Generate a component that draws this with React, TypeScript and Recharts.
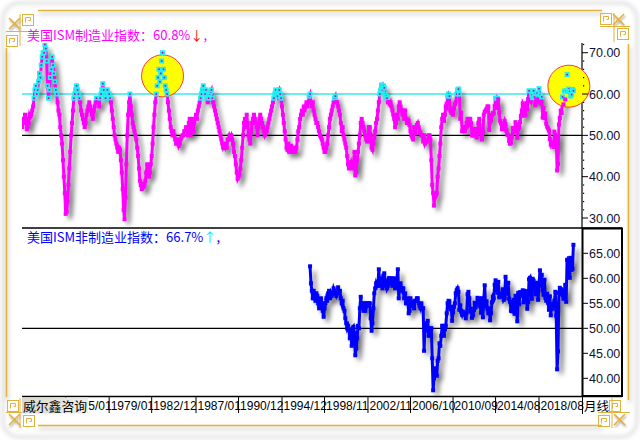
import React from 'react';
import { LineChart, Line, XAxis, YAxis, ReferenceLine, ReferenceDot } from 'recharts';

// ISM manufacturing, monthly from 1971/01
const mfg1971to1979 = [
  52, 54, 53, 55, 54, 51.5, 52, 53, 55, 54.5, 55, 56,
  57, 59, 61, 62, 60, 61, 63, 65, 64, 67, 69, 70,
  70, 72, 71, 68, 62, 59, 61, 64, 66, 69, 67, 65,
  63, 61, 60, 58, 56, 55, 52, 50, 48, 44, 40, 36,
  31, 31.5, 34, 38, 42, 46, 50, 53, 56, 59, 60, 61,
  62, 61, 60, 59, 58, 56, 55, 54, 53, 52, 53, 55,
  56, 57, 58, 57, 56, 55, 54, 56, 57, 58, 59, 58,
  58, 57, 59, 60, 61, 62.5, 61, 60, 59, 60, 61, 60,
  60, 59, 58, 56, 54, 52, 50, 49, 48, 47, 46, 47,
];
const mfg1980to1989 = [
  46.5, 44, 41, 37, 32, 29.7, 35, 43, 50, 55, 58, 60,
  57, 55, 53, 52, 51, 50, 49, 47, 45, 42, 39, 38,
  37, 38, 37.5, 38, 39, 41, 43, 42, 40, 41, 43, 45,
  48, 52, 55, 58, 60, 62, 64, 66, 63, 65, 68, 70,
  66, 64, 62, 61, 60, 58, 56, 54, 52, 51, 50, 51,
  50, 49, 48, 48, 49, 47.5, 48, 49, 49.5, 50, 50, 51,
  51, 52, 51, 50, 53, 54, 50, 52, 54, 51, 53, 54,
  55, 54, 56, 57, 58, 59, 60, 61, 62, 61, 60, 61,
  59, 58, 59, 60, 60.5, 61, 59, 58, 57, 56, 55, 54,
  53, 52, 51, 50, 49, 48, 47, 47.5, 47, 48, 47, 49,
];
const mfg1990to1999 = [
  49, 50, 49.5, 50, 49, 48, 46, 45, 43, 41, 39.5, 40,
  40.5, 42, 44, 47, 50, 53, 54, 52, 55, 53, 50, 49,
  48, 51, 53, 54, 55, 54, 53, 52, 50, 52, 54, 55,
  54, 53, 52, 51, 50, 50.5, 51, 52, 53, 54, 55, 56,
  57, 58, 59, 60, 61, 60, 59.5, 60.5, 61, 60, 59, 57,
  55, 53, 51, 49, 47, 46.5, 48, 47, 46, 47.5, 46, 47,
  46, 47, 46, 47, 49, 51, 52, 54, 55, 56, 55, 57,
  56, 57, 58, 57, 58, 59.5, 60, 58, 57, 58, 56, 55,
  54, 53, 53, 52, 51, 50, 49.5, 49, 48, 47, 46, 46,
  47, 48, 50, 52, 54, 55, 56, 57, 58, 59, 59.5, 58,
];
const mfg2000to2009 = [
  58, 57, 56, 55, 53, 51, 52, 50, 49, 48, 47, 45,
  43, 42, 43, 43.5, 42, 43, 43.5, 46, 40.3, 41, 44, 46,
  48, 50, 53, 54, 53, 52, 51, 50, 49, 49.5, 48.5, 52,
  52, 50, 47, 46.5, 48, 49.5, 51, 53, 54, 56, 58, 60,
  61, 62.2, 61, 62, 61.5, 60, 59.5, 59, 58, 58, 57.5, 58,
  57, 56, 55, 54, 52, 53, 55, 54, 57, 58, 57, 56,
  55, 56, 54, 56, 54, 53, 53, 53.5, 52.5, 51, 50, 49.5,
  49, 52, 50.5, 52, 52.5, 53, 52, 51, 50.5, 50, 50, 48.5,
  50, 48, 48.5, 48.5, 49, 50, 50, 49, 44, 38, 36, 33,
  35, 35.5, 36, 40, 42, 45, 48, 52, 54, 55, 53.5, 55,
];
const mfg2010to2021 = [
  57, 56.5, 59.5, 60, 59.5, 56, 55.5, 56, 55, 56.5, 57.5, 58,
  60, 61, 61.2, 60, 54, 55.5, 51, 51, 52, 51, 52, 53,
  54, 52.5, 53, 54, 53, 50, 50, 50, 51.5, 51.5, 49.5, 50.5,
  53, 54, 51, 50.5, 49, 50.9, 55, 55.7, 56, 56.4, 57, 57,
  51.3, 53.2, 53.7, 54.9, 55.4, 55.3, 57.1, 59, 56.6, 59, 58.7, 55.5,
  53.5, 52.9, 51.5, 51.5, 52.8, 53.5, 52.7, 51.1, 50.2, 50.1, 48.6, 48,
  48.2, 49.5, 51.8, 50.8, 51.3, 53.2, 52.6, 49.4, 51.5, 51.9, 53.2, 54.7,
  56, 57.7, 57.2, 54.8, 54.9, 57.8, 56.3, 58.8, 60.8, 58.7, 58.2, 59.7,
  59.1, 60.8, 59.3, 57.3, 58.7, 60.2, 58.1, 61.3, 59.8, 57.7, 59.3, 54.3,
  56.6, 54.2, 55.3, 52.8, 52.1, 51.7, 51.2, 49.1, 47.8, 48.3, 48.1, 47.2,
  50.9, 50.1, 49.1, 41.5, 43.1, 52.6, 54.2, 56, 55.4, 59.3, 57.5, 60.7,
  58.7, 60.8, 64.7, 60.7, 61.2, 60.6, 59.5, 59.9, 61.1, 60.8,
];

// ISM non-manufacturing, monthly from 1997/07
const nmi1997to1999 = [
  62.4, 59, 57.5, 56, 57.5, 56,
  55.5, 57, 56.5, 55, 54, 55, 56, 55, 53.5, 52.3, 54, 55,
  56, 55.5, 57, 57.5, 56, 57, 56.5, 57, 58, 57.5, 57, 56.5,
];
const nmi2000to2009 = [
  57, 58.2, 57, 57.5, 56, 55, 55.5, 54, 53.5, 52, 51, 50,
  50.5, 49.7, 48, 49.5, 46.5, 50, 50.3, 49, 44.6, 46, 48, 50.5,
  50, 54, 56.3, 54.5, 55, 53.5, 55, 53.5, 55, 54.5, 55, 55,
  55, 52, 49.5, 51, 54, 57, 58, 59, 58.5, 59, 61.8, 58.5,
  60, 59, 58, 60.5, 61, 58.5, 59, 58, 58.5, 60, 60, 59,
  60, 58.5, 60, 59, 58, 59, 60, 61.8, 56, 58, 59, 58,
  57.5, 58, 56, 57, 55, 55, 56, 53, 53.5, 56, 54.5, 55,
  54.5, 54, 55.5, 55.5, 56, 56, 55, 54.5, 54, 55, 54, 54,
  45.5, 50, 49.5, 51, 51.5, 48.5, 49.5, 50, 50, 44, 37.6, 40,
  42, 41, 40.5, 43.5, 44, 47, 46.5, 48.5, 50.5, 50.5, 48.5, 49.8,
];
const nmi2010to2021 = [
  50.5, 53, 55, 55.5, 55.4, 53.8, 54.3, 51.5, 53.2, 54.3, 55, 57,
  57.6, 58, 57.3, 53.7, 54.6, 53.3, 52.7, 53.3, 53, 52.9, 52, 53,
  56.8, 57.3, 56, 53.5, 53.7, 52.1, 52.6, 53.7, 55.1, 54.2, 54.7, 56.1,
  55.2, 56, 54.4, 53.1, 56, 52.2, 56, 58.6, 54.4, 55.4, 53.9, 53,
  54, 51.6, 53.1, 55.2, 56.3, 56, 58.7, 59.6, 58.6, 57.1, 59.3, 56.2,
  56.7, 56.9, 56.5, 57.8, 55.7, 56, 60.3, 59, 56.9, 59.1, 55.9, 55.3,
  53.5, 53.4, 54.5, 55.7, 52.9, 56.5, 55.5, 51.4, 57.1, 54.8, 57.2, 57.2,
  56.5, 57.6, 55.2, 57.5, 56.9, 57.4, 53.9, 55.3, 59.8, 60.1, 57.4, 55.9,
  59.9, 59.5, 58.8, 56.8, 58.6, 59.1, 55.7, 58.5, 61.6, 60.3, 60.7, 57.6,
  56.7, 59.7, 56.1, 55.5, 56.9, 55.1, 53.7, 56.4, 52.6, 54.7, 53.9, 54.9,
  55.5, 57.3, 52.5, 41.8, 45.4, 57.1, 58.1, 56.9, 57.8, 56.6, 55.9, 57.2,
  58.7, 55.3, 63.7, 62.7, 64, 60.1, 64.1, 61.7, 61.9, 66.7,
];

const MFG_START = 12; // months since 1970/01 -> 1971/01
const NMI_START = 330; // 1997/07

const tickMonths = [60, 108, 155, 204, 251, 299, 346, 394, 441, 488, 535, 583];
// the first label is partly hidden behind the brand box in the reference; only "5/01" shows
const tickLabels = ['5/01', '1979/01', '1982/12', '1987/01', '1990/12', '1994/12', '1998/11', '2002/11', '2006/10', '2010/09', '2014/08', '2018/08'];
const topTicks = [30, 32, 34, 36, 38, 40, 42, 44, 46, 48, 50, 52, 54, 56, 58, 60, 62, 64, 66, 68, 70, 72];
const bottomTicks = [40, 45, 50, 55, 60, 65];
const circleMonths = [167, 616];
const circleValues = [64.4, 61.9];

const mfgValues = [...mfg1971to1979, ...mfg1980to1989, ...mfg1990to1999, ...mfg2000to2009, ...mfg2010to2021];
const nmiValues = [...nmi1997to1999, ...nmi2000to2009, ...nmi2010to2021];
const mfgData = mfgValues.map((v, i) => ({ m: MFG_START + i, v }));
const nmiData = nmiValues.map((v, i) => ({ m: NMI_START + i, v }));

const X_DOMAIN: [number, number] = [11.7, 630.5];
const GOLD = '#e2b23a';
const NUM_FONT = '"Liberation Sans", Arial, sans-serif';
const CJK_FONT = '"Noto Sans CJK SC", sans-serif';

const MfgDot = (p: any) => {
  const { cx, cy, payload, index } = p;
  if (cx == null || cy == null) return <g key={`m${index}`} />;
  if (payload.v >= 59) {
    return (
      <g key={`m${index}`}>
        <rect x={cx - 2.5} y={cy - 2.5} width={5} height={5} fill="#20f0f0" />
        <rect x={cx - 0.75} y={cy - 0.75} width={1.6} height={1.6} fill="#c000c0" />
      </g>
    );
  }
  return <rect key={`m${index}`} x={cx - 2} y={cy - 2} width={4} height={4} fill="#ff00ff" />;
};

const NmiDot = (p: any) => {
  const { cx, cy, index } = p;
  if (cx == null || cy == null) return <g key={`n${index}`} />;
  return <rect key={`n${index}`} x={cx - 2} y={cy - 2} width={4} height={4} fill="#0000ff" />;
};

const TopTick = (p: any) => {
  const { x, y, payload } = p;
  const v = payload.value;
  if (v % 10 === 0) {
    return (
      <g>
        <line x1={x} x2={x + 6} y1={y} y2={y} stroke="#000" strokeWidth={1} />
        <text x={x + 7} y={y + 4.5} fontSize={12.5} fill="#101030" fontFamily={NUM_FONT}>{v.toFixed(2)}</text>
      </g>
    );
  }
  return <rect x={x + 1} y={y - 0.5} width={1.2} height={1.2} fill="#000" />;
};

const BottomYTick = (p: any) => {
  const { x, y, payload } = p;
  return (
    <g>
      <line x1={x} x2={x + 6} y1={y} y2={y} stroke="#000" strokeWidth={1} />
      <text x={x + 7} y={y + 4.5} fontSize={12.5} fill="#101030" fontFamily={NUM_FONT}>{payload.value.toFixed(2)}</text>
    </g>
  );
};

const XTick = (p: any) => {
  const { x, y, payload } = p;
  const idx = tickMonths.indexOf(payload.value);
  const dx = idx === 0 ? 22.5 : 1.5;
  return (
    <g>
      <line x1={x} x2={x} y1={y} y2={y + 17} stroke="#000" strokeWidth={1} />
      <text x={x + dx} y={y + 14} fontSize={12} fill="#000" fontFamily={NUM_FONT}>{tickLabels[idx]}</text>
    </g>
  );
};

const Spiral = ({ x, y, s = 11 }: { x: number; y: number; s?: number }) => (
  <g stroke={GOLD} strokeWidth={1} fill="none">
    <rect x={x + 0.5} y={y + 0.5} width={s} height={s} />
    <path d={`M${x + 3.5} ${y + s - 2.5} L${x + 3.5} ${y + 3.5} L${x + s - 2.5} ${y + 3.5} L${x + s - 2.5} ${y + s - 4.5} L${x + 6.5} ${y + s - 4.5} L${x + 6.5} ${y + 6.5}`} />
  </g>
);

const Cross = ({ x, y }: { x: number; y: number }) => (
  <g stroke={GOLD} strokeWidth={1.6} style={{ filter: 'drop-shadow(1px 2px 1px rgba(0,0,0,0.35))' }}>
    <line x1={x} y1={y} x2={x + 11} y2={y + 11} />
    <line x1={x + 11} y1={y} x2={x} y2={y + 11} />
  </g>
);

const Frame = () => (
  <svg width={640} height={440} style={{ position: 'absolute', left: 0, top: 0, pointerEvents: 'none' }}>
    <defs>
      <linearGradient id="brandBg" x1="0" y1="0" x2="1" y2="0">
        <stop offset="0" stopColor="#d8d8cf" />
        <stop offset="1" stopColor="#eeeee8" />
      </linearGradient>
      <filter id="soft" x="-10%" y="-10%" width="120%" height="120%">
        <feGaussianBlur stdDeviation="2" />
      </filter>
    </defs>
    <rect x={3} y={3} width={634} height={434} rx={16} fill="none" stroke="#dcdcdc" strokeWidth={3} filter="url(#soft)" />
    <g style={{ filter: 'drop-shadow(1px 3px 2px rgba(0,0,0,0.3))' }}>
      <line x1={38} y1={10.5} x2={602} y2={10.5} stroke={GOLD} strokeWidth={1.5} />
      <line x1={38} y1={425.5} x2={602} y2={425.5} stroke={GOLD} strokeWidth={1.5} />
      <line x1={6.5} y1={48} x2={6.5} y2={397} stroke={GOLD} strokeWidth={1.5} />
      <line x1={628.5} y1={44} x2={628.5} y2={400} stroke={GOLD} strokeWidth={1.5} />
    </g>
    <Spiral x={22} y={14} />
    <Cross x={9} y={18} />
    <Spiral x={6} y={35} />
    <line x1={20} y1={14} x2={20} y2={46} stroke={GOLD} />
    <line x1={6} y1={31.5} x2={36} y2={31.5} stroke={GOLD} />
    <Spiral x={600} y={13} />
    <Cross x={613} y={14} />
    <Spiral x={617} y={28} />
    <line x1={614} y1={13} x2={614} y2={42} stroke={GOLD} />
    <line x1={600} y1={26.5} x2={630} y2={26.5} stroke={GOLD} />
    <Spiral x={7} y={400} />
    <Cross x={9} y={414} />
    <Spiral x={23} y={415} />
    <line x1={20} y1={398} x2={20} y2={428} stroke={GOLD} />
    <line x1={6} y1={412.5} x2={36} y2={412.5} stroke={GOLD} />
    <Spiral x={609} y={400} />
    <Cross x={614} y={414} />
    <Spiral x={598} y={415} />
    <line x1={612} y1={398} x2={612} y2={428} stroke={GOLD} />
    <line x1={598} y1={412.5} x2={630} y2={412.5} stroke={GOLD} />

    <line x1={22} y1={228} x2={622} y2={228} stroke="#000" strokeWidth={1.5} />
    <rect x={582.5} y={228.5} width={39.5} height={167.5} fill="none" stroke="#000" strokeWidth={2} />
    <line x1={22} y1={396.5} x2={622} y2={396.5} stroke="#000" strokeWidth={1.5} />
    <line x1={582.5} y1={396} x2={582.5} y2={414} stroke="#000" strokeWidth={1} />
    <text x={584} y={410.5} fontSize={12.5} fontFamily={CJK_FONT} fill="#000">月线</text>

    <rect x={22} y={397.5} width={66} height={16} fill="url(#brandBg)" />
    <text x={23} y={410.5} fontSize={12.8} fontFamily={CJK_FONT} fill="#000">威尔鑫咨询</text>

    <text x={27} y={39.5} fontSize={13} fontFamily={CJK_FONT}>
      <tspan fill="#ff00ff">美国ISM制造业指数：60.8%</tspan>
      <tspan fill="#ff0000">↓</tspan>
      <tspan fill="#ff00ff">,</tspan>
    </text>
    <text x={27} y={241.5} fontSize={13} fontFamily={CJK_FONT}>
      <tspan fill="#0000ff">美国ISM非制造业指数：66.7%</tspan>
      <tspan fill="#00e8ff">↑</tspan>
      <tspan fill="#0000ff">,</tspan>
    </text>
  </svg>
);

export default function App() {
  return (
    <div style={{ position: 'absolute', left: 0, top: 0, width: 640, height: 440, background: '#fff', overflow: 'hidden' }}>
      <style>{`
        .mfg .recharts-line { filter: drop-shadow(4px 5px 2.5px rgba(0,0,0,0.55)); }
        .nmi .recharts-line { filter: drop-shadow(4px 5px 2.5px rgba(0,0,0,0.55)); }
      `}</style>
      <div className="mfg" style={{ position: 'absolute', left: 0, top: 0 }}>
        <LineChart width={640} height={228} data={mfgData} margin={{ top: 43, right: 18, left: 22, bottom: 0 }}>
          <XAxis type="number" dataKey="m" domain={X_DOMAIN} allowDataOverflow hide />
          <YAxis
            orientation="right"
            width={40}
            domain={[27.58, 72.35]}
            allowDataOverflow
            ticks={topTicks}
            interval={0}
            tick={<TopTick />}
            tickLine={false}
            tickSize={0}
            tickMargin={0}
            axisLine={{ stroke: '#000', strokeWidth: 1.2 }}
          />
          <ReferenceLine y={60} stroke="#3ee6f0" strokeWidth={1.5} />
          <ReferenceLine y={50} stroke="#000" strokeWidth={1.2} />
          {circleMonths.map((m, i) => (
            <ReferenceDot key={m} x={m} y={circleValues[i]} r={21} fill="#ffff00" stroke="#ff3a3a" strokeWidth={1} ifOverflow="visible" />
          ))}
          <Line
            type="linear"
            dataKey="v"
            stroke="#ff00ff"
            strokeWidth={3}
            dot={MfgDot}
            activeDot={false}
            isAnimationActive={false}
          />
        </LineChart>
      </div>
      <div className="nmi" style={{ position: 'absolute', left: 0, top: 228 }}>
        <LineChart width={640} height={212} data={nmiData} margin={{ top: 0, right: 18, left: 22, bottom: 26 }}>
          <XAxis
            type="number"
            dataKey="m"
            domain={X_DOMAIN}
            allowDataOverflow
            ticks={tickMonths}
            interval={0}
            height={18}
            tick={<XTick />}
            tickLine={false}
            tickSize={0}
            tickMargin={0}
            axisLine={false}
          />
          <YAxis
            orientation="right"
            width={40}
            domain={[36.46, 70.06]}
            allowDataOverflow
            ticks={bottomTicks}
            interval={0}
            tick={<BottomYTick />}
            tickLine={false}
            tickSize={0}
            tickMargin={0}
            axisLine={false}
          />
          <ReferenceLine y={50} stroke="#000" strokeWidth={1.2} />
          <Line
            type="linear"
            dataKey="v"
            stroke="#0000ff"
            strokeWidth={3}
            dot={NmiDot}
            activeDot={false}
            isAnimationActive={false}
          />
        </LineChart>
      </div>
      <Frame />
    </div>
  );
}
